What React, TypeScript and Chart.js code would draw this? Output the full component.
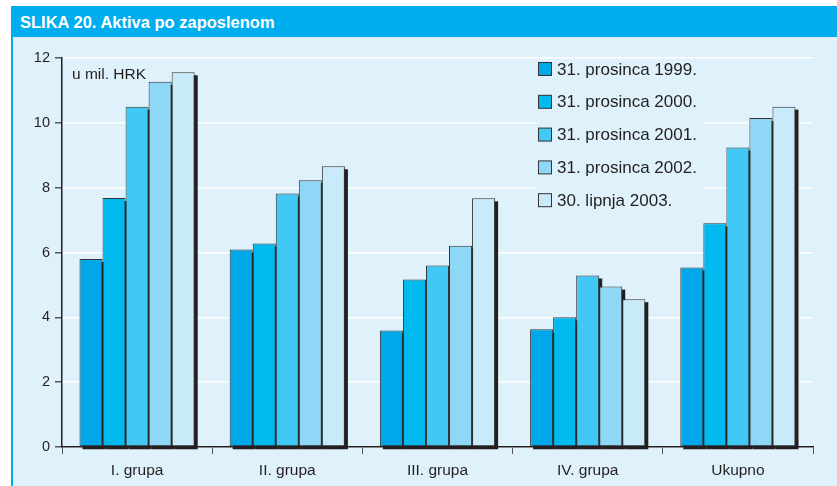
import React, { useEffect, useRef } from "react";
import { Chart, registerables } from "chart.js";

Chart.register(...registerables);

const categories = ["I. grupa", "II. grupa", "III. grupa", "IV. grupa", "Ukupno"];
const seriesLabels = [
  "31. prosinca 1999.",
  "31. prosinca 2000.",
  "31. prosinca 2001.",
  "31. prosinca 2002.",
  "30. lipnja 2003.",
];
const values1999 = [5.8, 6.09, 3.59, 3.63, 5.54];
const values2000 = [7.68, 6.28, 5.17, 4.0, 6.9];
const values2001 = [10.5, 7.82, 5.6, 5.29, 9.24];
const values2002 = [11.27, 8.23, 6.21, 4.95, 10.15];
const values2003 = [11.56, 8.66, 7.67, 4.56, 10.5];
const seriesColors = ["#00a8e9", "#00b9ef", "#42c8f4", "#8fd7f7", "#c8eaf9"];
const yTicks = [0, 2, 4, 6, 8, 10, 12];
const unitLabel = "u mil. HRK";
const titleText = "SLIKA 20. Aktiva po zaposlenom";

const PANEL = "#dff1fb";
const DARK = "#231f20";
const FONT = "Arial, 'Liberation Sans', Helvetica, sans-serif";

const shadowLegendPlugin = {
  id: "shadowLegend",
  beforeDatasetsDraw(chart: any) {
    const ctx = chart.ctx;
    ctx.save();
    // legend background
    ctx.fillStyle = PANEL;
    ctx.fillRect(523, 23, 168, 155);
    // unit label
    ctx.fillStyle = DARK;
    ctx.font = `15.5px ${FONT}`;
    ctx.textBaseline = "middle";
    ctx.textAlign = "left";
    ctx.fillText(unitLabel, 60, 38);
    // legend items
    ctx.font = `17px ${FONT}`;
    seriesLabels.forEach((lab, i) => {
      const cy = 32 + i * 32.8;
      ctx.fillStyle = seriesColors[i];
      ctx.fillRect(526.5, cy - 6.5, 13, 13);
      ctx.strokeStyle = "#333333";
      ctx.lineWidth = 1;
      ctx.strokeRect(526.5, cy - 6.5, 13, 13);
      ctx.fillStyle = DARK;
      ctx.fillText(lab, 545, cy + 1);
    });
    // bar shadows
    ctx.fillStyle = DARK;
    chart.data.datasets.forEach((_: any, di: number) => {
      const meta = chart.getDatasetMeta(di);
      meta.data.forEach((el: any) => {
        const p = el.getProps(["x", "y", "base", "width"], true);
        ctx.fillRect(p.x - p.width / 2 + 3, p.y + 3, p.width, p.base - p.y);
      });
    });
    ctx.restore();
  },
};

export default function App() {
  const ref = useRef<HTMLCanvasElement | null>(null);
  useEffect(() => {
    if (!ref.current) return;
    const all = [values1999, values2000, values2001, values2002, values2003];
    const chart = new Chart(ref.current, {
      type: "bar",
      data: {
        labels: categories,
        datasets: all.map((v, i) => ({
          label: seriesLabels[i],
          data: v,
          backgroundColor: seriesColors[i],
          borderColor: "#333333",
          borderWidth: 1,
          borderSkipped: false,
          categoryPercentage: 0.767,
          barPercentage: 1,
        })),
      },
      options: {
        responsive: false,
        animation: false,
        maintainAspectRatio: false,
        layout: { padding: { top: 21, right: 24, left: 0, bottom: 0 } },
        plugins: {
          legend: { display: false },
          tooltip: { enabled: false },
          title: { display: false },
        },
        scales: {
          x: {
            type: "category",
            offset: true,
            grid: {
              display: true,
              drawOnChartArea: false,
              drawTicks: true,
              tickLength: 7,
              tickColor: "#555",
              offset: true,
            },
            border: { display: true, color: DARK, width: 1.5 },
            ticks: { font: { family: FONT, size: 15.5 }, color: DARK, padding: 7 },
            afterFit: (s: any) => {
              s.height = 39;
            },
          },
          y: {
            min: 0,
            max: 12,
            afterBuildTicks: (s: any) => {
              s.ticks = yTicks.map((v) => ({ value: v }));
            },
            ticks: { font: { family: FONT, size: 14.5 }, color: DARK, padding: 5 },
            grid: { color: "#ffffff", lineWidth: 1.5, tickLength: 7, tickColor: "#555" },
            border: { display: true, color: DARK, width: 1.5 },
            afterFit: (s: any) => {
              s.width = 50;
            },
          },
        },
      },
      plugins: [shadowLegendPlugin],
    } as any);
    return () => chart.destroy();
  }, []);

  return (
    <div
      style={{
        position: "fixed",
        left: 0,
        top: 0,
        width: 837,
        height: 486,
        background: "#ffffff",
        overflow: "hidden",
      }}
    >
      <div
        style={{
          position: "absolute",
          left: 11,
          top: 6,
          width: 826,
          height: 31,
          background: "#00aeef",
          color: "#ffffff",
          font: `bold 16.5px ${FONT}`,
          lineHeight: "33px",
          paddingLeft: 9,
          boxSizing: "border-box",
          whiteSpace: "nowrap",
        }}
      >
        {titleText}
      </div>
      <div
        style={{
          position: "absolute",
          left: 11,
          top: 37,
          width: 826,
          height: 449,
          background: PANEL,
          borderLeft: "2px solid #00aeef",
          boxSizing: "border-box",
        }}
      />
      <canvas
        ref={ref}
        width={825}
        height={449}
        style={{ position: "absolute", left: 12, top: 37, width: 825, height: 449 }}
      />
    </div>
  );
}
